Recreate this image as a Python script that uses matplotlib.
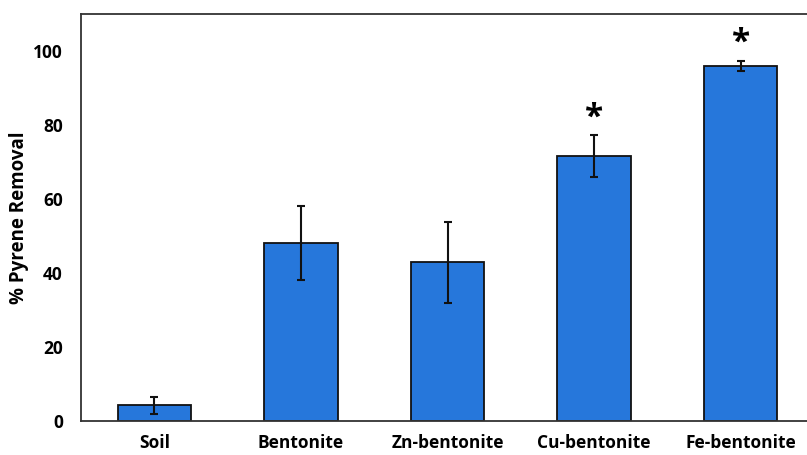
import matplotlib
matplotlib.use("Agg")
import matplotlib.pyplot as plt
import numpy as np

# pyrene removal by amendment
samples = ["Soil", "Bentonite", "Zn-bentonite", "Cu-bentonite", "Fe-bentonite"]
removal = [4.2, 48.1, 42.9, 71.6, 96.0]
err = [2.4, 10.0, 11.0, 5.6, 1.4]
signif = [False, False, False, True, True]

plt.rcParams["font.family"] = ["Open Sans", "DejaVu Sans"]
plt.rcParams["font.weight"] = "bold"

fig = plt.figure(figsize=(8.07, 4.55), dpi=100)
ax = fig.add_axes([0.1004, 0.0747, 0.9083, 0.8944])

x = np.arange(len(samples))
ax.bar(x, removal, width=0.5, color="#2677DB", edgecolor="#111111", linewidth=1.3)
ax.errorbar(x, removal, yerr=err, fmt="none", ecolor="#111111",
            elinewidth=1.5, capsize=3, capthick=1.5)

# star over significant bars
for xi, v, e, s in zip(x, removal, err, signif):
    if s:
        ax.text(xi, v + e + 0.2, "*", ha="center", va="bottom",
                fontsize=24, fontweight="bold")

ax.set_xlim(-0.5, 4.5)
ax.set_ylim(0, 110)
ax.set_yticks([0, 20, 40, 60, 80, 100])
ax.set_xticks(x)
ax.set_xticklabels(samples)
ax.tick_params(axis="both", length=0, labelsize=12.5)
ax.tick_params(axis="x", pad=9)
ax.tick_params(axis="y", pad=13)
ax.set_ylabel("% Pyrene Removal", fontsize=13.5, fontweight="bold", labelpad=3)
for sp in ax.spines.values():
    sp.set_color("#333333")
    sp.set_linewidth(1.3)

fig.savefig("out.png", dpi=100)
